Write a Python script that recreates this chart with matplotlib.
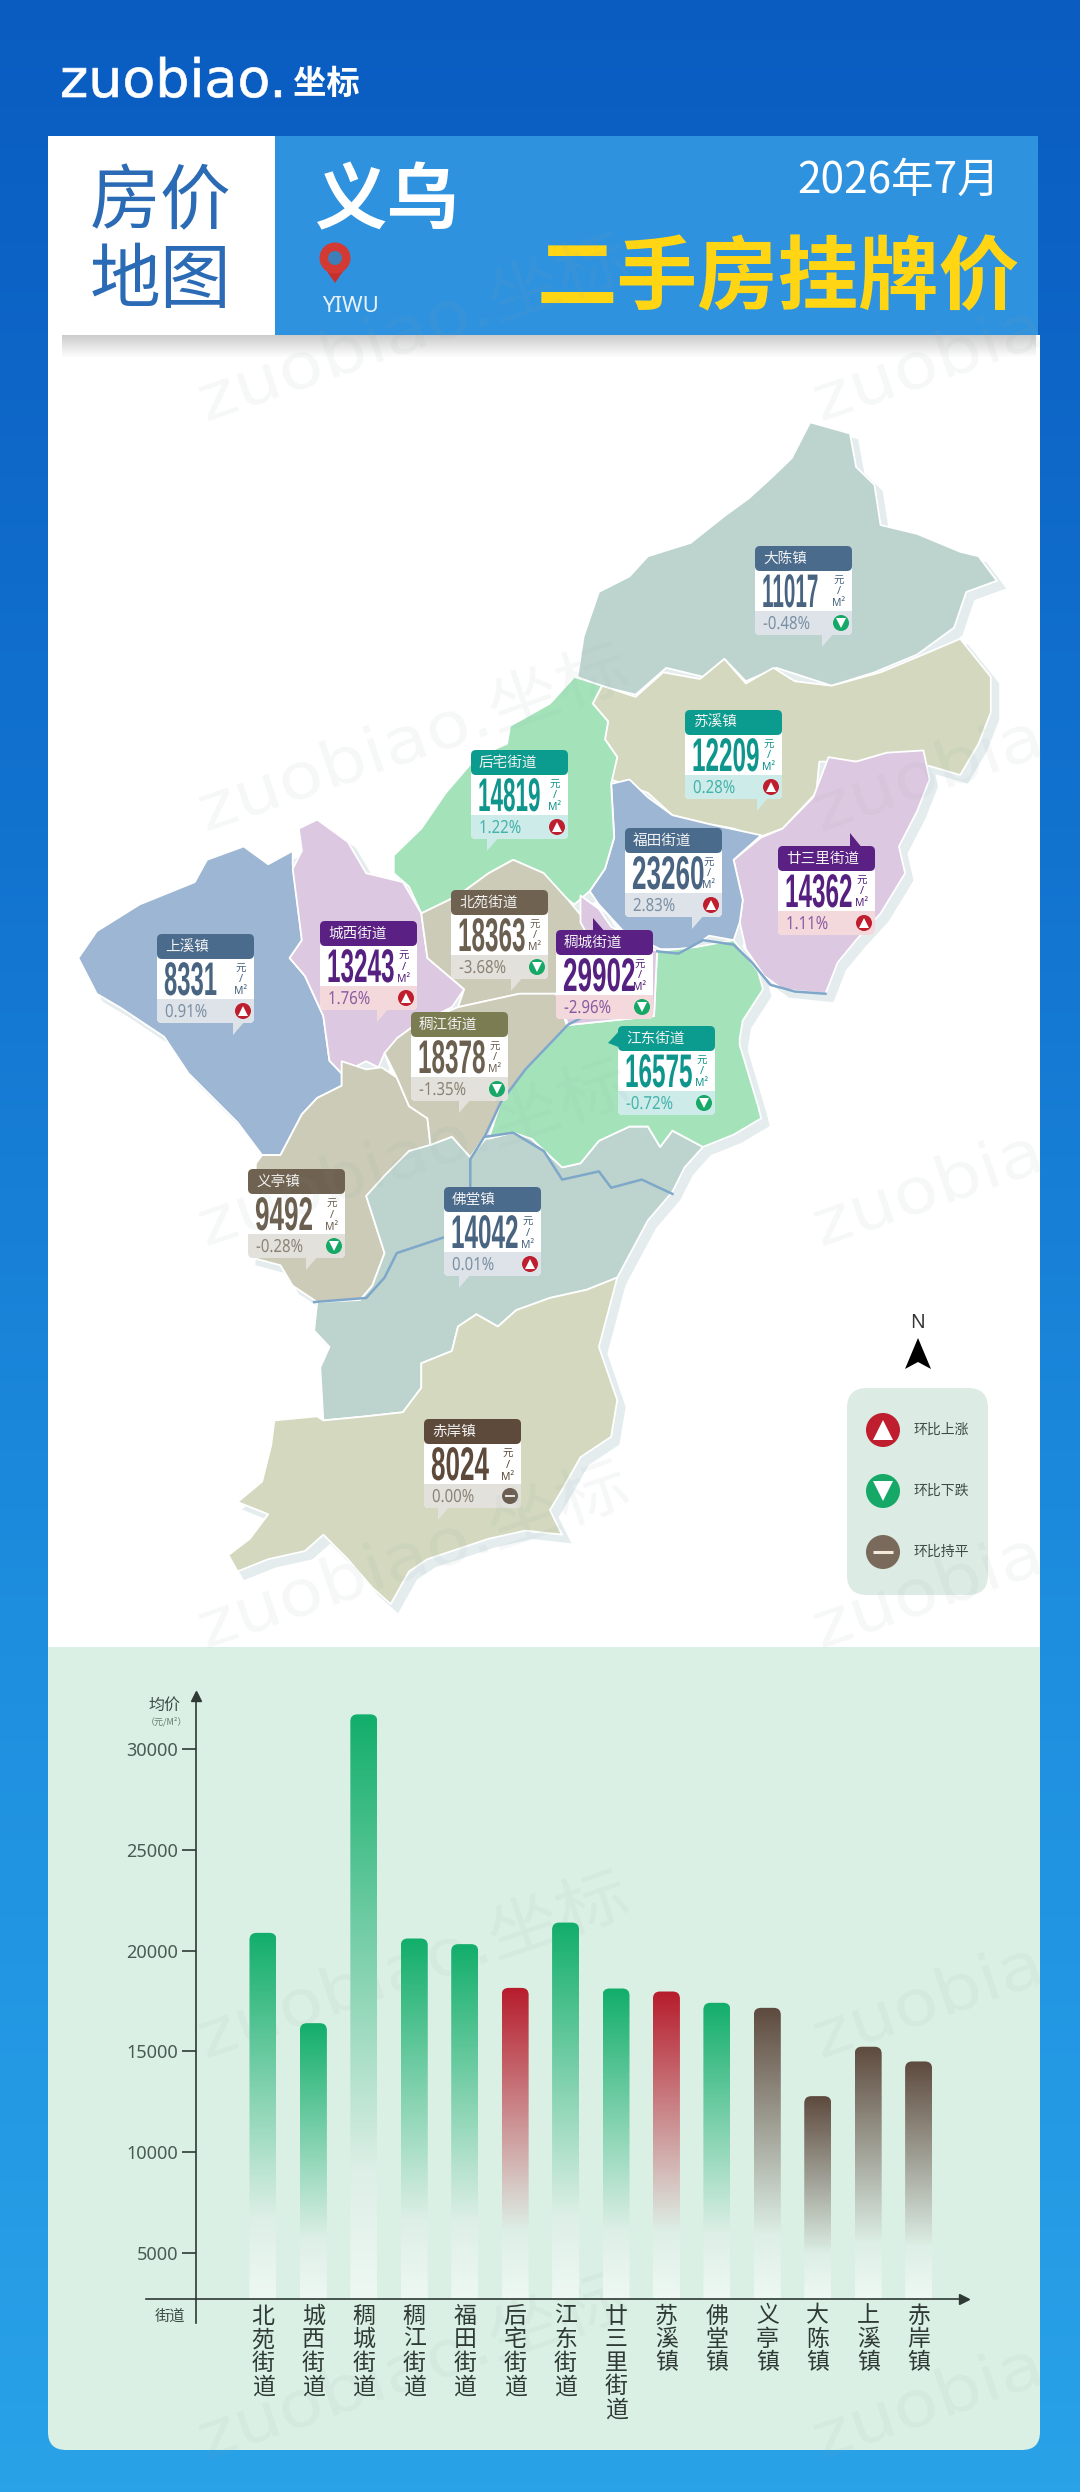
import numpy as np
import matplotlib
matplotlib.use("Agg")
import matplotlib.pyplot as plt
from matplotlib.colors import LinearSegmentedColormap
from matplotlib.patches import Polygon, Circle, FancyBboxPatch, Rectangle
from matplotlib.patheffects import AbstractPathEffect
from matplotlib.transforms import Affine2D

W, H = 1080, 2492
CJK = ["Noto Sans CJK SC", "DejaVu Sans"]
plt.rcParams["font.family"] = CJK

# map cards
town_names = ["大陈镇", "苏溪镇", "后宅街道", "福田街道", "廿三里街道", "北苑街道", "稠城街道",
              "城西街道", "上溪镇", "稠江街道", "江东街道", "义亭镇", "佛堂镇", "赤岸镇"]
town_prices = [11017, 12209, 14819, 23260, 14362, 18363, 29902, 13243, 8331, 18378, 16575, 9492, 14042, 8024]
town_changes = [-0.48, 0.28, 1.22, 2.83, 1.11, -3.68, -2.96, 1.76, 0.91, -1.35, -0.72, -0.28, 0.01, 0.00]

# bar chart
bar_names = ["北苑街道", "城西街道", "稠城街道", "稠江街道", "福田街道", "后宅街道", "江东街道",
             "廿三里街道", "苏溪镇", "佛堂镇", "义亭镇", "大陈镇", "上溪镇", "赤岸镇"]
bar_values = [20880, 16400, 31720, 20600, 20320, 18150, 21390, 18120, 17970, 17410, 17160, 12780, 15230, 14500]
bar_groups = ["green", "green", "green", "green", "green", "red", "green",
              "green", "red", "green", "brown", "brown", "brown", "brown"]
y_ticks = [5000, 10000, 15000, 20000, 25000, 30000]

legend_labels = ["环比上涨", "环比下跌", "环比持平"]

# card placement, pixels: left, top, tip kind, tip x, tip y
card_pos = [(755, 546, "down", 822, 0), (685, 710, "down", 757, 0), (471, 750, "down", 487, 0),
            (625, 828, "down", 692, 0), (778, 846, "up", 850, 833), (451, 890, "down", 511, 0),
            (556, 930, "up", 593, 918), (320, 921, "down", 377, 0), (157, 934, "down", 233, 0),
            (411, 1012, "down", 459, 0), (618, 1026, "left", 608, 1043), (248, 1169, "down", 306, 0),
            (444, 1187, "down", 459, 0), (424, 1419, "down", 438, 0)]
card_kind = ["slate", "teal", "teal", "slate", "purple", "brown", "purple",
             "purple", "slate", "olive", "teal", "brown", "slate", "dark"]
# header, number, strip, percent text
card_colors = {"slate": ("#4A6B8C", "#486480", "#DDE3E8", "#7C90A4"),
               "teal": ("#0C9C8F", "#0F968C", "#CDEBE9", "#45B3AC"),
               "purple": ("#5A2083", "#55207F", "#F4D9DC", "#8A5BA3"),
               "brown": ("#6F6250", "#6B5F50", "#E3E1DC", "#8C8375"),
               "olive": ("#7B7C52", "#6B5F50", "#E3E1DC", "#8C8375"),
               "dark": ("#5E4A3A", "#5E4A3A", "#E3E1DC", "#8C8375")}


def a(*pts):
    return [(60 + x / 1.633, 400 + y / 2.24) for x, y in pts]


def b(*pts):
    return [(60 + x / 1.633, 1000 + y / 2.45) for x, y in pts]


TEAL, OLIVE, PURPLE, BLUE, GREEN, TAN = "#BDD4CE", "#D3D8BE", "#DCC8E0", "#9DB6D3", "#A4E3BA", "#CBCBB8"
regions = [
    (TEAL, a((845, 620), (855, 530), (880, 430), (930, 395), (960, 350), (1030, 320), (1085, 260), (1125, 220),
             (1165, 170), (1195, 130), (1225, 50), (1290, 75), (1300, 150), (1330, 190), (1340, 280), (1400, 300),
             (1470, 340), (1500, 350), (1530, 405), (1480, 430), (1460, 510), (1440, 530), (1400, 570), (1330, 610), (1260, 640),
             (1170, 600), (1120, 630), (1085, 580), (1050, 620), (990, 600), (940, 660), (880, 640))),
    (OLIVE, a((870, 680), (885, 640), (940, 665), (985, 610), (1045, 625), (1085, 580), (1120, 635), (1165, 600),
              (1200, 630), (1260, 640), (1340, 610), (1410, 570), (1470, 535), (1520, 620), (1520, 700), (1500, 770),
              (1470, 840), (1420, 820), (1300, 810), (1240, 810), (1235, 880), (1180, 960), (1140, 980), (1100, 960),
              (1060, 950), (1000, 930), (960, 880), (920, 860), (900, 850), (910, 800), (890, 760), (895, 720))),
    (PURPLE, a((1255, 800), (1300, 810), (1350, 790), (1410, 785), (1420, 850), (1400, 920), (1370, 1000), (1380, 1060),
               (1340, 1150), (1300, 1210), (1270, 1260), (1250, 1330), (1180, 1320), (1150, 1290), (1120, 1230),
               (1110, 1170), (1115, 1120), (1100, 1030), (1145, 980), (1180, 960), (1230, 890))),
    (BLUE, a((900, 860), (930, 850), (960, 890), (1000, 930), (1060, 950), (1145, 975), (1100, 1030), (1115, 1120),
             (1110, 1170), (1100, 1210), (1060, 1200), (1030, 1230), (980, 1230), (920, 1190), (880, 1130), (865, 1100),
             (890, 1050), (905, 980))),
    (GREEN, a((545, 1020), (590, 960), (630, 880), (680, 800), (730, 770), (735, 730), (800, 680), (840, 620), (885, 640),
              (870, 680), (895, 720), (890, 760), (910, 800), (900, 860), (905, 980), (890, 1050), (865, 1100), (840, 1130),
              (800, 1090), (790, 1060), (740, 1030), (700, 1060), (650, 1110), (590, 1150), (570, 1090), (545, 1060))),
    (BLUE, a((30, 1250), (60, 1190), (130, 1130), (220, 1080), (240, 1030), (300, 1000), (340, 1040), (380, 1010),
             (380, 1040), (395, 1210), (375, 1250), (400, 1290), (430, 1380), (440, 1480))
     + b((460, 180), (460, 210), (420, 240), (395, 280), (360, 380), (330, 380), (290, 300), (210, 180), (170, 90),
         (100, 20)) + a((60, 1330))),
    (PURPLE, a((390, 960), (420, 940), (470, 990), (500, 1060), (560, 1080), (590, 1150), (600, 1250), (660, 1320),
               (640, 1360), (580, 1400), (550, 1430), (540, 1500))
     + b((530, 130), (520, 165), (500, 150), (460, 180))
     + a((440, 1480), (430, 1380), (400, 1290), (375, 1250), (395, 1210), (380, 1050), (395, 1010))),
    (TAN, a((590, 1150), (650, 1110), (700, 1060), (740, 1030), (790, 1060), (830, 1120), (860, 1170), (870, 1220),
            (860, 1300), (810, 1330), (750, 1330), (650, 1360), (660, 1320), (600, 1250))),
    (TAN, b((460, 150), (500, 170), (525, 165), (550, 190), (570, 260), (600, 290), (605, 360), (570, 370), (530, 440),
            (500, 480), (530, 620), (510, 700), (490, 735), (420, 740), (380, 700), (360, 650), (310, 630), (320, 400),
            (330, 380), (360, 380), (395, 280), (420, 240), (460, 210))),
    (TEAL, b((500, 480), (530, 430), (570, 370), (605, 355), (640, 335), (670, 385), (695, 340), (740, 325), (770, 340),
             (820, 410), (850, 400), (880, 345), (930, 310), (960, 310), (980, 360), (1000, 320), (1050, 360), (1020, 410),
             (1000, 470), (960, 540), (910, 680), (860, 710), (800, 730), (745, 760), (715, 800), (680, 770), (650, 800),
             (640, 860), (590, 890), (590, 950), (560, 1010), (500, 1020), (430, 1030), (425, 900), (440, 850), (415, 810),
             (420, 740), (490, 735), (510, 700), (530, 620))),
    (OLIVE, b((350, 1030), (420, 1020), (430, 1030), (500, 1020), (560, 1010), (590, 950), (590, 890), (640, 860), (650, 800),
              (680, 770), (715, 800), (745, 760), (800, 730), (860, 710), (910, 680), (880, 850), (910, 980), (900, 1070),
              (850, 1120), (820, 1200), (800, 1250), (820, 1310), (760, 1300), (700, 1320), (640, 1350), (600, 1370),
              (570, 1400), (540, 1480), (510, 1440), (470, 1370), (430, 1310), (400, 1350), (340, 1370), (290, 1400),
              (275, 1360), (310, 1320), (340, 1260), (290, 1230), (330, 1180), (345, 1090))),
    (TAN, a((650, 1360), (750, 1330), (810, 1330), (830, 1410), (780, 1480))
     + b((720, 250), (695, 330), (670, 385), (640, 335), (605, 355), (600, 290), (570, 260), (550, 190), (530, 130))
     + a((550, 1430), (580, 1400))),
    (GREEN, a((975, 1235), (1040, 1225), (1100, 1210), (1140, 1280), (1148, 1320), (1115, 1390), (1110, 1430))
     + b((1110, 110), (1140, 260), (1145, 290), (1100, 330), (1050, 360), (1000, 320), (980, 360), (960, 310), (930, 310),
         (880, 345), (850, 400), (820, 410), (770, 340), (740, 325), (700, 340), (720, 250), (760, 170), (830, 60))
     + a((830, 1400), (970, 1380))),
    (PURPLE, a((850, 1110), (880, 1140), (900, 1180), (975, 1235), (970, 1380), (830, 1400), (810, 1330), (860, 1300),
               (870, 1220), (850, 1170))),
]
river_west = b((415, 740), (500, 730), (530, 680), (550, 620), (630, 580), (670, 460), (670, 390), (695, 330), (720, 250),
               (760, 170), (830, 60), (870, 30))
river_south = b((695, 335), (740, 325), (790, 370), (820, 440), (880, 420), (900, 460), (950, 440), (1000, 475))
river_north = a((975, 1235), (1010, 1240), (1050, 1210), (1100, 1220), (1130, 1260), (1160, 1310), (1200, 1325), (1250, 1330))


class Stretch(AbstractPathEffect):
    # glyphs scaled around the text origin, no condensed fonts here
    def __init__(self, sx=1, sy=1, stroke=0):
        super().__init__()
        self.sx, self.sy, self.stroke = sx, sy, stroke

    def draw_path(self, renderer, gc, tpath, affine, rgbFace=None):
        gc0 = renderer.new_gc()
        gc0.copy_properties(gc)
        if self.stroke:
            gc0.set_linewidth(self.stroke)
            gc0.set_foreground(rgbFace)
        renderer.draw_path(gc0, tpath, Affine2D().scale(self.sx, self.sy) + affine, rgbFace)
        gc0.restore()


fig = plt.figure(figsize=(W / 100, H / 100), dpi=100)
ov = fig.add_axes([0, 0, 1, 1])
ov.axis("off")

# background
bg = LinearSegmentedColormap.from_list("bg", ["#0A5CC1", "#1273CF", "#1E8FDF", "#29A2E8"])
ov.imshow(np.linspace(0, 1, 256)[:, None], cmap=bg, extent=(0, W, H, 0), aspect="auto", zorder=0)

# panels
ov.add_patch(Rectangle((48, 335), 992, 1320, color="white", lw=0, zorder=1))
ov.add_patch(FancyBboxPatch((48, 1647), 992, 803, boxstyle="round,pad=0,rounding_size=18", fc="#DAF0E4", ec="none", zorder=1.1))
ov.add_patch(Rectangle((48, 1647), 992, 40, color="#DAF0E4", lw=0, zorder=1.1))

# header
ov.add_patch(Rectangle((48, 136), 227, 199, color="white", lw=0, zorder=3))
ov.add_patch(Rectangle((275, 136), 763, 199, color="#2F92DE", lw=0, zorder=3))
shadow = np.zeros((24, 2, 4))
shadow[:, :, :3] = 0.45
shadow[:, :, 3] = np.linspace(0.36, 0, 24)[:, None]
ov.imshow(shadow, extent=(62, 1036, 358, 335), aspect="auto", zorder=2)

ov.text(60, 97, "zuobiao.", color="white", fontsize=38, family="DejaVu Sans", ha="left", va="baseline",
        path_effects=[Stretch(sx=1.02, stroke=0.5)], zorder=5)
ov.text(293, 84, "坐标", color="white", fontsize=24, fontweight="bold", ha="left", va="center", zorder=5)
for t, y in (("房价", 203), ("地图", 281)):
    ov.text(161, y, t, color="#2B6BB5", fontsize=51, ha="center", va="center", zorder=5)
ov.text(387, 202, "义乌", color="white", fontsize=52, fontweight="bold", ha="center", va="center", zorder=5)
ov.text(350, 306, "YIWU", color="#E6F1FA", fontsize=16, family="Noto Sans", ha="center", va="center", zorder=5)
ov.text(899, 181, "2026年7月", color="white", fontsize=30.5, ha="center", va="center", zorder=5)
ov.text(778, 280, "二手房挂牌价", color="#FFD514", fontsize=58, fontweight="bold", ha="center", va="center", zorder=5)

# location pin
ov.add_patch(Polygon([(320.5, 262), (349.5, 262), (335, 283)], color="#C9302C", lw=0, zorder=5))
ov.add_patch(Circle((335, 258), 15.5, color="#D23A33", lw=0, zorder=5))
ov.add_patch(Circle((335, 258), 7, color="#3D7FB8", lw=0, zorder=5.1))

# map, shadow copy first
for color, pts in regions:
    ov.add_patch(Polygon(np.array(pts) + (7, 7), color="#E4ECEE", lw=2, zorder=4))
for i, (color, pts) in enumerate(regions):
    ov.add_patch(Polygon(pts, fc=color, ec="white", lw=1.3, joinstyle="round", zorder=4.1 + i * 0.01))
for river in (river_west, river_south, river_north):
    xs, ys = zip(*river)
    ov.plot(xs, ys, color="#7FA7C9", lw=1.8, solid_joinstyle="round", zorder=4.5)

# cards
ICON = {1: ("#BE1E2D", "^"), -1: ("#16A867", "v"), 0: ("#6B5D50", "_")}
digit_px = {"1": 9.5}
for name, price, change, (left, top, tip, tx, ty), kind in zip(town_names, town_prices, town_changes, card_pos, card_kind):
    head, num, strip, pct = card_colors[kind]
    w, h = 97, 89
    if tip == "down":
        ov.add_patch(Polygon([(tx, top + h - 2), (tx + 12, top + h - 2), (tx, top + h + 12)], color=strip, lw=0, zorder=6))
    elif tip == "up":
        ov.add_patch(Polygon([(tx, ty), (tx, top + 3), (tx + 13, top + 3)], color=head, lw=0, zorder=6))
    else:
        ov.add_patch(Polygon([(tx, ty), (left + 3, ty - 14), (left + 3, ty + 5)], color=head, lw=0, zorder=6))
    ov.add_patch(FancyBboxPatch((left, top + 6), w, h - 6, boxstyle="round,pad=0,rounding_size=5", fc="white", ec="none", zorder=6))
    ov.add_patch(FancyBboxPatch((left, top + 65), w, 24, boxstyle="round,pad=0,rounding_size=5", fc=strip, ec="none", zorder=6.1))
    ov.add_patch(Rectangle((left, top + 65), w, 8, color=strip, lw=0, zorder=6.1))
    ov.add_patch(FancyBboxPatch((left, top), w, 25, boxstyle="round,pad=0,rounding_size=5", fc=head, ec="none", zorder=6.2))
    ov.text(left + 8, top + 13, name, color="#F2F2F2", fontsize=10.5, ha="left", va="center", zorder=7)

    # tall narrow digits: small font sized by width, stretched up to 33 px
    s = str(price)
    target = sum(digit_px.get(c, 14.5) for c in s)
    em = target / (0.556 * len(s))
    ov.text(left + 7, top + 61, s, color=num, fontsize=em * 0.72, fontweight="bold", family="Liberation Sans",
            ha="left", va="baseline", path_effects=[Stretch(sy=33 / (0.7 * em))], zorder=7)
    ux = left + 84
    ov.text(ux, top + 35, "元", color=num, fontsize=7.5, ha="center", va="center", zorder=7)
    ov.text(ux, top + 46, "/", color=num, fontsize=8, family="Noto Sans", ha="center", va="center", zorder=7)
    ov.text(ux, top + 58, "M²", color=num, fontsize=7.5, family="Noto Sans", ha="center", va="center", zorder=7)

    ov.text(left + 8, top + 83, "%.2f%%" % change, color=pct, fontsize=10.8, family="Noto Sans", ha="left",
            va="baseline", path_effects=[Stretch(sy=1.2)], zorder=7)
    sign = int(np.sign(change))
    color, marker = ICON[sign]
    ov.add_patch(Circle((left + 86, top + 77), 8, color=color, lw=0, zorder=7))
    ov.plot([left + 86], [top + 77], marker=marker, ms=6.5, mfc="white", mec="white", mew=1.2 if sign == 0 else 0, zorder=7.1)

# north arrow and legend
ov.text(918, 1323, "N", color="#333333", fontsize=14, family="Noto Sans", ha="center", va="center", zorder=5)
ov.add_patch(Polygon([(918, 1338), (931, 1369), (918, 1362), (905, 1369)], color="black", lw=0, zorder=5))
ov.add_patch(FancyBboxPatch((847, 1388), 141, 207, boxstyle="round,pad=0,rounding_size=20", fc="#DCEBE4", ec="none", zorder=5))
for y, label, sign in zip((1430, 1491, 1552), legend_labels, (1, -1, 0)):
    color, marker = ICON[sign]
    if sign == 0:
        color = "#7A6A5B"
    ov.add_patch(Circle((883, y), 17, color=color, lw=0, zorder=5.1))
    ov.plot([883], [y], marker=marker, ms=14, mfc="white", mec="#F5E9DC", mew=2.2 if sign == 0 else 0, zorder=5.2)
    ov.text(913, y, label, color="#3E4A45", fontsize=10, ha="left", va="center", zorder=5.2)

# watermarks, the right column runs out at the edge of the picture
for wy in (405, 815, 1230, 1632, 2042, 2443):
    for wx, mark in ((200, "zuobiao.坐标"), (815, "zuobia")):
        ov.text(wx, wy, mark, color="#8FA3A8", alpha=0.075, fontsize=46, rotation=19, rotation_mode="anchor",
                ha="left", va="center", family=["DejaVu Sans", "Noto Sans CJK SC"],
                path_effects=[Stretch(sx=1.14)], zorder=9)

ov.set_xlim(0, W)
ov.set_ylim(H, 0)

# bar chart, axes sit on the green panel
ax_left, ax_right, ax_top, ax_bottom = 196.4, 964, 1696, 2299
ax = fig.add_axes([ax_left / W, 1 - ax_bottom / H, (ax_right - ax_left) / W, (ax_bottom - ax_top) / H])
ax.patch.set_alpha(0)
ymin, ymax = 2716, 32630
x = np.arange(len(bar_names))
bar_w = 0.535
xlim = (-1.32, 13.9)
ax.set_xlim(xlim)
ax.set_ylim(ymin, ymax)
bars = ax.bar(x, np.array(bar_values) - ymin, bar_w, bottom=ymin, color="none", lw=0)

group_top = {"green": "#12AE6B", "red": "#B71C2C", "brown": "#5E4A3E"}
aspect = ((ymax - ymin) / (ax_bottom - ax_top)) / ((xlim[1] - xlim[0]) / (ax_right - ax_left))
for rect, group in zip(bars, bar_groups):
    x0, bottom, bw, bh = rect.get_x(), rect.get_y(), rect.get_width(), rect.get_height()
    cm = LinearSegmentedColormap.from_list(group, [(0, group_top[group]), (0.78, "#DDEFE6"), (1, "#EEF8F3")], N=256)
    im = ax.imshow(np.linspace(0, 1, 256)[:, None], cmap=cm, extent=(x0, x0 + bw, bottom, bottom + bh), aspect="auto", zorder=2)
    clip = FancyBboxPatch((x0, bottom - 2000), bw, bh + 2000, boxstyle="round,pad=0,rounding_size=0.14", mutation_aspect=aspect,
                          fc="none", ec="none", transform=ax.transData)
    ax.add_patch(clip)
    im.set_clip_path(clip)
ax.set_xlim(xlim)
ax.set_ylim(ymin, ymax)

AXC = "#2F3A35"
for s in ("top", "right"):
    ax.spines[s].set_visible(False)
ax.spines["left"].set_color(AXC)
ax.spines["bottom"].set_color(AXC)
ax.spines["left"].set_linewidth(1.2)
ax.spines["bottom"].set_linewidth(1.2)
ax.plot([-0.066, 0], [0, 0], color=AXC, lw=1.2, transform=ax.transAxes, clip_on=False)
ax.plot([0, 0], [-0.04, 0], color=AXC, lw=1.2, transform=ax.transAxes, clip_on=False)
ax.plot(1, 0, marker=">", ms=7, color=AXC, transform=ax.transAxes, clip_on=False)
ax.plot(0, 1, marker="^", ms=7, color=AXC, transform=ax.transAxes, clip_on=False)

ax.set_yticks(y_ticks)
ax.set_yticklabels([str(v) for v in y_ticks], fontsize=13, family="Noto Sans", color="#4A5A52")
ax.tick_params(axis="y", length=10, width=1.2, color=AXC, pad=3)
ax.set_xticks(x)
ax.set_xticklabels(["\n".join(n) for n in bar_names], fontsize=16.5, color="#2F3A35", linespacing=1.03)
ax.tick_params(axis="x", length=0, pad=4)

fig.text(164 / W, 1 - 1705 / H, "均价", color="#3E4A45", fontsize=11.5, ha="center", va="center")
fig.text(166 / W, 1 - 1722 / H, "（元/M²）", color="#6B7A72", fontsize=6.5, ha="center", va="center")
fig.text(170 / W, 1 - 2316 / H, "街道", color="#3E4A45", fontsize=11, ha="center", va="center")

fig.savefig("out.png", dpi=100)
